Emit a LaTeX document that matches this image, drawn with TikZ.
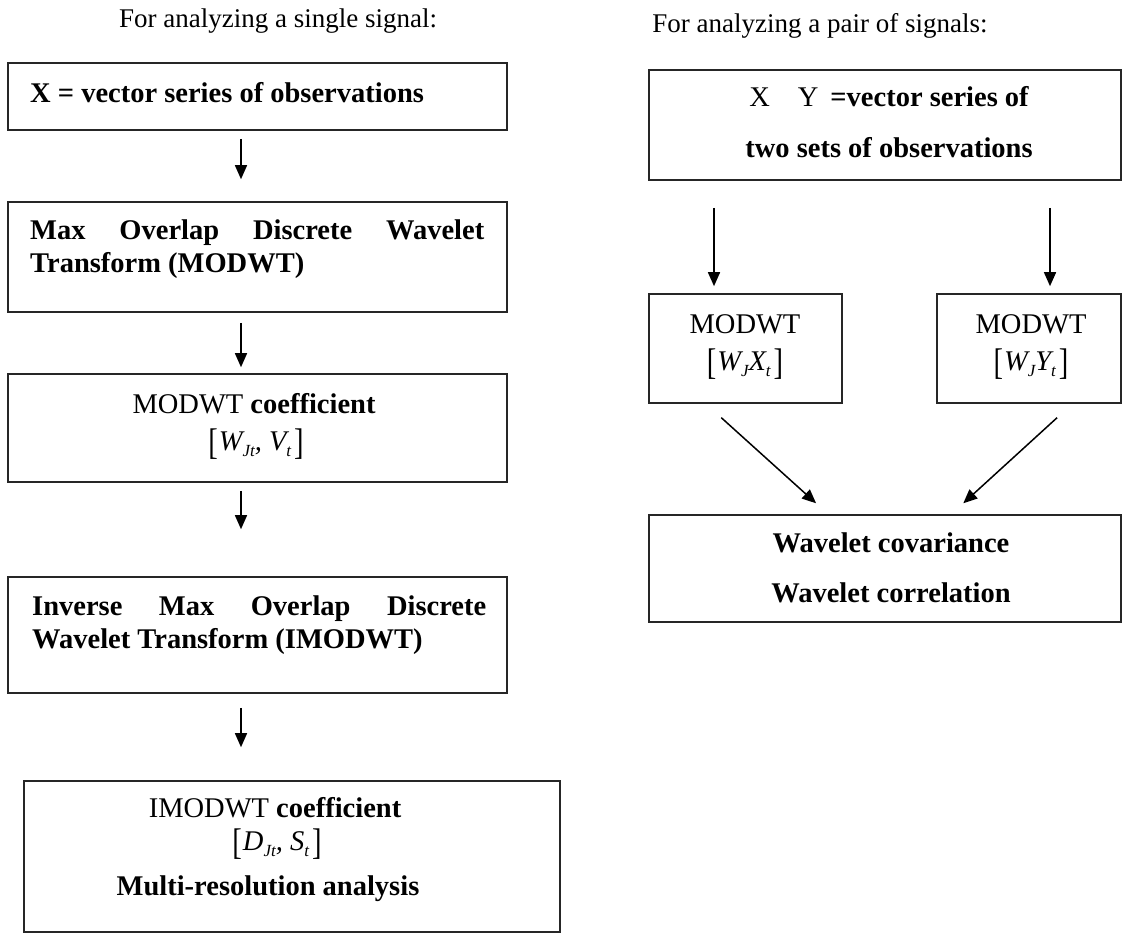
\documentclass[tikz,border=0pt]{standalone}
\usepackage{fontspec}
\setmainfont{Liberation Serif}
\usepackage{graphicx}
\usetikzlibrary{arrows.meta}
\newcommand{\brL}{{\upshape\raisebox{-4pt}{\scalebox{1}[1.3]{[}}}\kern1pt}
\newcommand{\brR}{\kern3pt{\upshape\raisebox{-4pt}{\scalebox{1}[1.3]{]}}}}
\newcommand{\sbs}[1]{\raisebox{-6pt}{\fontsize{17}{17}\selectfont #1}}
\begin{document}
\begin{tikzpicture}[x=1pt,y=-1pt,
  box/.style={draw=black!85, line width=1.6pt, inner sep=0pt},
  bt/.style={inner sep=0pt, font=\bfseries\fontsize{28.5}{34}\selectfont},
  rt/.style={inner sep=0pt, font=\fontsize{28.5}{34}\selectfont},
  mt/.style={inner sep=0pt, font=\itshape\fontsize{28.5}{34}\selectfont},
  ttl/.style={inner sep=0pt, font=\fontsize{27}{32}\selectfont},
  arr/.style={line width=1.5pt, -{Triangle[length=14pt,width=12pt]}}]
\useasboundingbox (0,0) rectangle (1123,933);
% titles
\node[ttl, anchor=base] (tL) at (278,28) {For analyzing a single signal:};
\node[ttl, anchor=base] (tR) at (820,33) {For analyzing a pair of signals:};
% left column boxes
\node[box, minimum width=499pt, minimum height=67pt] (b1) at (257.5,96.5) {};
\node[box, minimum width=499pt, minimum height=110pt] (b2) at (257.5,257) {};
\node[box, minimum width=499pt, minimum height=108pt] (b3) at (257.5,428) {};
\node[box, minimum width=499pt, minimum height=116pt] (b4) at (257.5,635) {};
\node[box, minimum width=536pt, minimum height=151pt] (b5) at (292,856.5) {};
% left column texts
\node[bt, anchor=base west] (t1) at (30,103) {X = vector series of observations};
\node[bt, anchor=base west] (t2a) at (30,240) {\hbox to 454pt{Max\hfill Overlap\hfill Discrete\hfill Wavelet}};
\node[bt, anchor=base west] (t2b) at (30,272) {Transform (MODWT)};
\node[bt, anchor=base] (t3a) at (254,413) {{\mdseries MODWT} coefficient};
\node[mt, anchor=base] (t3b) at (256,450) {\brL W\sbs{Jt}, V\sbs{t}\brR};
\node[bt, anchor=base west] (t4a) at (32,615) {\hbox to 454pt{Inverse\hfill Max\hfill Overlap\hfill Discrete}};
\node[bt, anchor=base west] (t4b) at (32,648) {Wavelet Transform (IMODWT)};
\node[bt, anchor=base] (t5a) at (275,817) {{\mdseries IMODWT} coefficient};
\node[mt, anchor=base] (t5b) at (277,850) {\brL D\sbs{Jt}, S\sbs{t}\brR};
\node[bt, anchor=base] (t5c) at (268,895) {Multi-resolution analysis};
% left column arrows
\coordinate (cL) at (241,0);
\draw[arr, shorten <=8pt, shorten >=22pt] (b1.south -| cL) -- (b2.north -| cL);
\draw[arr, shorten <=10pt, shorten >=6pt] (b2.south -| cL) -- (b3.north -| cL);
\draw[arr, shorten <=8pt, shorten >=47pt] (b3.south -| cL) -- (b4.north -| cL);
\draw[arr, shorten <=14pt, shorten >=33pt] (b4.south -| cL) -- (b5.north -| cL);
% right column boxes
\node[box, minimum width=472pt, minimum height=110pt] (bT) at (885,125) {};
\node[box, minimum width=193pt, minimum height=109pt] (bML) at (745.5,348.5) {};
\node[box, minimum width=184pt, minimum height=109pt] (bMR) at (1029,348.5) {};
\node[box, minimum width=472pt, minimum height=107pt] (bB) at (885,568.5) {};
% right column texts
\node[bt, anchor=base] (tTa) at (889,107) {{\mdseries X}\hspace{28pt}{\mdseries Y}\hspace{12pt}=vector series of};
\node[bt, anchor=base] (tTb) at (889,158) {two sets of observations};
\node[rt, anchor=base] (tLa) at (745,333) {MODWT};
\node[mt, anchor=base] (tLb) at (745,370) {\brL W\sbs{J}X\sbs{t}\brR};
\node[rt, anchor=base] (tRa) at (1031,333) {MODWT};
\node[mt, anchor=base] (tRb) at (1031,370) {\brL W\sbs{J}Y\sbs{t}\brR};
\node[bt, anchor=base] (tBa) at (891,552) {Wavelet covariance};
\node[bt, anchor=base] (tBb) at (891,602) {Wavelet correlation};
% right column arrows
\coordinate (cA) at (714,0);
\coordinate (cB) at (1050,0);
\draw[arr, shorten <=27pt, shorten >=7pt] (bT.south -| cA) -- (bML.north -| cA);
\draw[arr, shorten <=27pt, shorten >=7pt] (bT.south -| cB) -- (bMR.north -| cB);
\draw[arr, shorten <=20.7pt, shorten >=16.3pt] ([xshift=57.7pt]bML.south west) -- ([xshift=180pt]bB.north west);
\draw[arr, shorten <=20.6pt, shorten >=16.2pt] ([xshift=136.1pt]bMR.south west) -- ([xshift=303.1pt]bB.north west);
\end{tikzpicture}
\end{document}
